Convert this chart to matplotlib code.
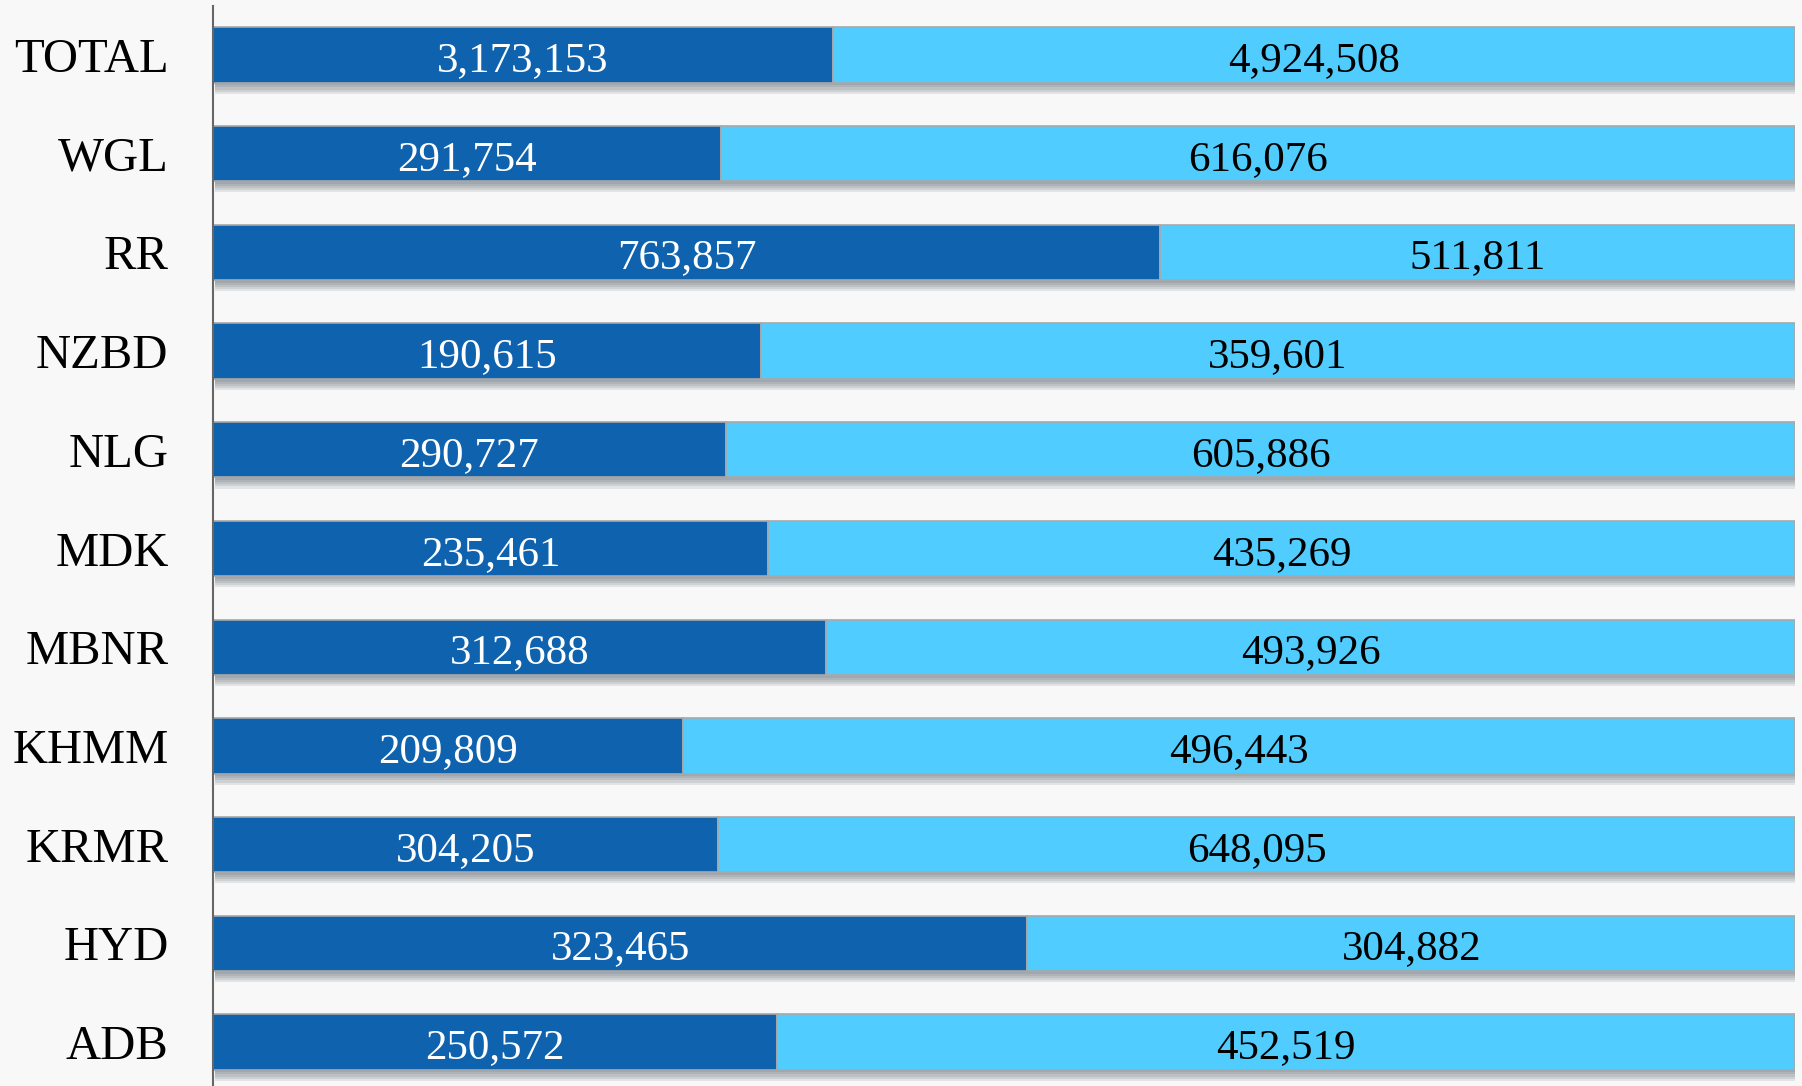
import numpy as np
import matplotlib.pyplot as plt
import matplotlib.patheffects as pe

# District-wise split, top row is the grand total
districts = ['TOTAL', 'WGL', 'RR', 'NZBD', 'NLG', 'MDK', 'MBNR', 'KHMM', 'KRMR', 'HYD', 'ADB']
part_a = [3173153, 291754, 763857, 190615, 290727, 235461, 312688, 209809, 304205, 323465, 250572]
part_b = [4924508, 616076, 511811, 359601, 605886, 435269, 493926, 496443, 648095, 304882, 452519]

dark_blue = '#0e62ae'
light_blue = '#50cdfe'
bg = '#f8f8f8'

a = np.array(part_a, dtype=float)
b = np.array(part_b, dtype=float)
tot = a + b
fa = a / tot
fb = b / tot
y = np.arange(len(districts))

fig = plt.figure(figsize=(18.02, 10.86), dpi=100, facecolor=bg)
ax = fig.add_axes([213 / 1802, 0, (1795 - 213) / 1802, 1])
ax.set_facecolor(bg)

# soft drop shadow under every bar
shadow = [pe.SimplePatchShadow(offset=(1.5, -k), shadow_rgbFace='#4e5864', alpha=0.13)
          for k in (2, 3.5, 5, 6.5, 8)] + [pe.Normal()]

h = 0.56
bars_a = ax.barh(y, fa, height=h, color=dark_blue, edgecolor='#a8a8a8', linewidth=1.2)
bars_b = ax.barh(y, fb, left=fa, height=h, color=light_blue, edgecolor='#a8a8a8', linewidth=1.2)
for p in list(bars_a) + list(bars_b):
    p.set_path_effects(shadow)

for i in range(len(districts)):
    ax.text(fa[i] / 2, y[i] + 0.06, f'{part_a[i]:,}', ha='center', va='center',
            color='white', fontsize=31, family='Liberation Serif')
    ax.text(fa[i] + fb[i] / 2, y[i] + 0.06, f'{part_b[i]:,}', ha='center', va='center',
            color='black', fontsize=31, family='Liberation Serif')

pitch = 98.7
top = -55 / pitch
bottom = (1086 - 55) / pitch
ax.set_ylim(bottom, top)
ax.set_xlim(0, 1)

ax.set_yticks(y)
ax.set_yticklabels(districts, fontsize=35, family='Liberation Serif')
ax.tick_params(axis='y', length=0, pad=32)
ax.set_xticks([])

for s in ['top', 'right', 'bottom']:
    ax.spines[s].set_visible(False)
ax.spines['left'].set_color('#666666')
ax.spines['left'].set_linewidth(1.5)
ax.spines['left'].set_bounds(bottom, -0.5)

plt.savefig('out.png', dpi=100, facecolor=bg)
